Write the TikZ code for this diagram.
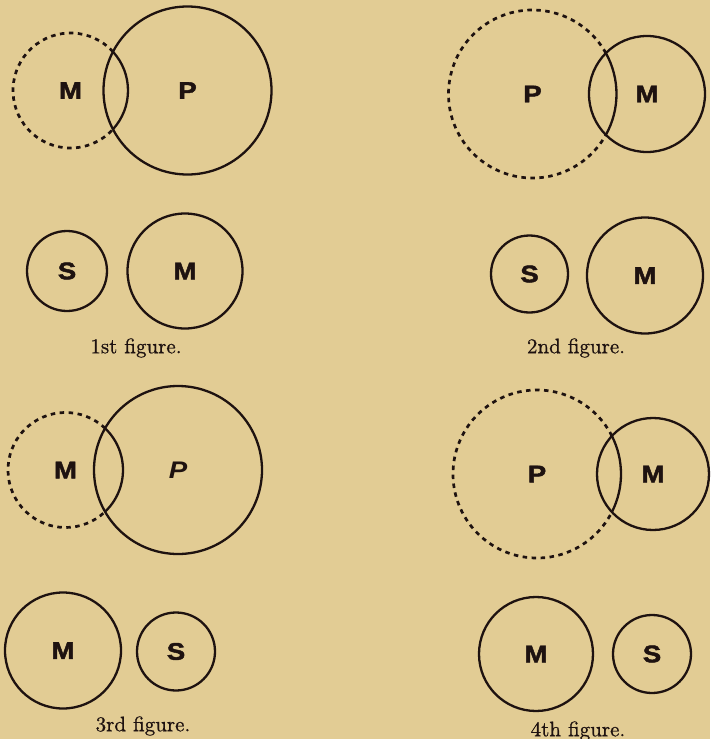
\documentclass[tikz,border=0pt]{standalone}
\usepackage{fontspec}
\newfontfamily\termfont{Liberation Sans}[FakeStretch=1.15, BoldFeatures={FakeBold=2}]
\newfontfamily\capfont{lmroman10-regular}[Extension=.otf, FakeBold=0.8]
\definecolor{paper}{HTML}{E2CC94}
\definecolor{ink}{HTML}{1E1210}
\tikzset{
  ring/.style={circle, draw=ink, line width=2.3pt, inner sep=0pt},
  ghost/.style={circle, inner sep=0pt},
  dotline/.style={draw=ink, line width=2.7pt, dash pattern=on 4.5pt off 4.5pt},
  solidline/.style={draw=ink, line width=2.3pt},
  term/.style={font=\termfont\bfseries\fontsize{24}{24}\selectfont, text=ink},
  caption/.style={font=\capfont\fontsize{21}{21}\selectfont, text=ink, inner sep=0pt},
}
\begin{document}
\begin{tikzpicture}[x=1pt,y=-1pt]
\useasboundingbox (0,0) rectangle (710,739);
\fill[paper] (0,0) rectangle (710,739);

% ---- 1st figure
\node[ghost, term, minimum size=115pt] (M1) at (70.5,90.5) {M};
\node[ring, term, minimum size=168pt] (P1) at (187.5,90.5) {P};
\draw[dotline] (M1.center) ++(42.3:57.5pt) arc[start angle=42.3, end angle=317.7, radius=57.5pt];
\draw[solidline] (M1.center) ++(-42.3:57.5pt) arc[start angle=-42.3, end angle=42.3, radius=57.5pt];
\node[ring, term, minimum size=80pt] (S1) at (67,271) {S};
\node[ring, term, minimum size=115pt] (M1b) at (185,271) {M};
\node[caption] (C1) at (136,348) {1st figure.};

% ---- 2nd figure
\node[ghost, term, minimum size=168pt] (P2) at (532.5,94) {P};
\node[ring, term, minimum size=116pt] (M2) at (647,94) {M};
\draw[dotline] (P2.center) ++(29.1:84pt) arc[start angle=29.1, end angle=330.9, radius=84pt];
\draw[solidline] (P2.center) ++(-29.1:84pt) arc[start angle=-29.1, end angle=29.1, radius=84pt];
\node[ring, term, minimum size=77pt] (S2) at (529.5,274) {S};
\node[ring, term, minimum size=116pt] (M2b) at (645,275.5) {M};
\node[caption] (C2) at (576,348) {2nd figure.};

% ---- 3rd figure
\node[ghost, term, minimum size=115pt] (M3) at (65.5,470) {M};
\node[ring, term, minimum size=168pt] (P3) at (178,470) {\itshape P};
\draw[dotline] (M3.center) ++(46.5:57.5pt) arc[start angle=46.5, end angle=313.5, radius=57.5pt];
\draw[solidline] (M3.center) ++(-46.5:57.5pt) arc[start angle=-46.5, end angle=46.5, radius=57.5pt];
\node[ring, term, minimum size=116pt] (M3b) at (63,650.5) {M};
\node[ring, term, minimum size=78pt] (S3) at (176,651.5) {S};
\node[caption] (C3) at (143,726) {3rd figure.};

% ---- 4th figure
\node[ghost, term, minimum size=168pt] (P4) at (537,474) {P};
\node[ring, term, minimum size=112pt] (M4) at (653,474) {M};
\draw[dotline] (P4.center) ++(26.9:84pt) arc[start angle=26.9, end angle=333.1, radius=84pt];
\draw[solidline] (P4.center) ++(-26.9:84pt) arc[start angle=-26.9, end angle=26.9, radius=84pt];
\node[ring, term, minimum size=114pt] (M4b) at (536,654) {M};
\node[ring, term, minimum size=78pt] (S4) at (652,654) {S};
\node[caption] (C4) at (578,731) {4th figure.};
\end{tikzpicture}
\end{document}
